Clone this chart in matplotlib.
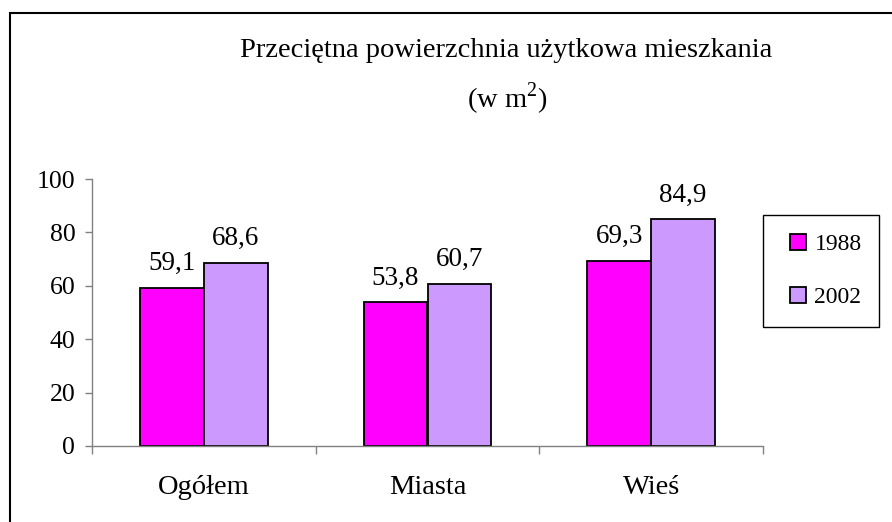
import numpy as np
import matplotlib.pyplot as plt
from matplotlib.patches import Rectangle

# dane
kategorie = ['Ogółem', 'Miasta', 'Wieś']
lata = ['1988', '2002']
w_1988 = [59.1, 53.8, 69.3]
w_2002 = [68.6, 60.7, 84.9]
kolory = ['#FF00FF', '#CC99FF']

plt.rcParams['font.family'] = ['Liberation Serif', 'DejaVu Serif']
plt.rcParams['mathtext.fontset'] = 'custom'
plt.rcParams['mathtext.rm'] = 'Liberation Serif'

W, H = 892, 522
fig = plt.figure(figsize=(W/100, H/100), dpi=100)
ax = fig.add_axes([92/W, 1-446/H, (763-92)/W, (446-179)/H])

x = np.arange(len(kategorie))
bw = 1/3.5
b1 = ax.bar(x - bw/2, w_1988, bw, color=kolory[0], edgecolor='black', lw=1.3, label=lata[0])
b2 = ax.bar(x + bw/2, w_2002, bw, color=kolory[1], edgecolor='black', lw=1.3, label=lata[1])

for b, vals in [(b1, w_1988), (b2, w_2002)]:
    ax.bar_label(b, labels=[f'{v:.1f}'.replace('.', ',') for v in vals],
                 padding=8.5, fontsize=19.5)

ax.set_xlim(-0.5, 2.5)
ax.set_ylim(0, 100)
ax.set_yticks(np.arange(0, 101, 20))
ax.set_xticks([-0.5, 0.5, 1.5, 2.5], ['', '', '', ''])
ax.set_xticks(x, kategorie, minor=True)
ax.tick_params(axis='y', labelsize=18.5, length=5, width=1, color='#808080', pad=7)
ax.tick_params(axis='x', which='major', length=6, width=1, color='#808080')
ax.tick_params(axis='x', which='minor', length=0, labelsize=20.5, pad=21)
for s in ['top', 'right']:
    ax.spines[s].set_visible(False)
for s in ['left', 'bottom']:
    ax.spines[s].set_color('#808080')
    ax.spines[s].set_linewidth(1)
ax.spines['left'].set_bounds(0, 100)
ax.set_axisbelow(False)

# tytul
fig.text(506/W, 1-57/H, 'Przeciętna powierzchnia użytkowa mieszkania',
         ha='center', va='baseline', fontsize=20.5)
fig.text(507/W, 1-108/H, r'(w m$^\mathregular{2}$)',
         ha='center', va='baseline', fontsize=20.5)

# legenda
fig.add_artist(Rectangle((763/W, 1-327/H), (879-763)/W, (327-215)/H,
                         fill=False, lw=1, edgecolor='black', transform=fig.transFigure))
fig.legend(loc='center', bbox_to_anchor=(826/W, 1-271/H), frameon=False,
           fontsize=17, handlelength=0.64, handleheight=0.64, handletextpad=0.38,
           labelspacing=1.35, borderpad=0, borderaxespad=0)

# ramka
fig.add_artist(Rectangle((10/W, -0.1), 1.2, 1.1-13/H, fill=False, lw=1.5,
                         edgecolor='black', transform=fig.transFigure))

fig.savefig('out.png', dpi=100)
